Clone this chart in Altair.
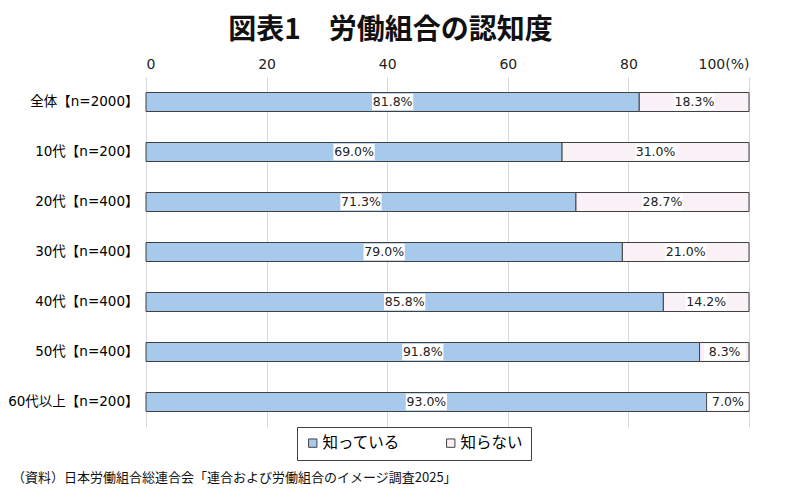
import altair as alt
import pandas as pd

categories = ["全体【n=2000】", "10代【n=200】", "20代【n=400】", "30代【n=400】",
              "40代【n=400】", "50代【n=400】", "60代以上【n=200】"]
known = [81.8, 69.0, 71.3, 79.0, 85.8, 91.8, 93.0]
unknown = [18.3, 31.0, 28.7, 21.0, 14.2, 8.3, 7.0]
series = ["知っている", "知らない"]
colors = ["#a7c9eb", "#f9f1f5"]
title_text = "図表1　労働組合の認知度"
source_text = "（資料）日本労働組合総連合会「連合および労働組合のイメージ調査2025」"

FONT = "DejaVu Sans, Noto Sans CJK JP"
CJK = "Noto Sans CJK JP"

rows = []
for c, k, u in zip(categories, known, unknown):
    rows.append({"cat": c, "series": series[0], "start": 0.0, "end": k,
                 "mid": k / 2, "label": f"{k:.1f}%"})
    rows.append({"cat": c, "series": series[1], "start": k, "end": min(k + u, 100.0),
                 "mid": k + u / 2, "label": f"{u:.1f}%"})
df = pd.DataFrame(rows)

xscale = alt.Scale(domain=[0, 100], nice=False)
yenc = alt.Y("cat:N", sort=categories,
             scale=alt.Scale(paddingInner=0.62, paddingOuter=0.31),
             axis=alt.Axis(title=None, domain=False, ticks=False, labelPadding=8,
                           labelFontSize=13.5, labelColor="#000000", labelFont=FONT))

bars = alt.Chart(df).mark_bar(stroke="#404040", strokeWidth=1).encode(
    x=alt.X("start:Q", scale=xscale,
            axis=alt.Axis(orient="top", title=None, values=[0, 20, 40, 60, 80, 100],
                          labelExpr="datum.value == 100 ? '100(%)' : datum.label",
                          domain=False, ticks=False, labelPadding=6, labelFontSize=14,
                          labelColor="#222222", labelFont=FONT,
                          grid=True, gridColor="#d9d9d9", gridWidth=1)),
    x2="end:Q",
    y=yenc,
    color=alt.Color("series:N", sort=series,
                    scale=alt.Scale(domain=series, range=colors),
                    legend=alt.Legend(title=None, orient="none", legendX=151, legendY=350,
                                      direction="horizontal", strokeColor="#404040",
                                      padding=8, labelFontSize=15.5, labelFont=CJK,
                                      labelColor="#000000",
                                      symbolType="square", symbolSize=70,
                                      symbolStrokeColor="#404040", symbolStrokeWidth=1,
                                      columnPadding=42, labelOffset=2,
                                      offset=0)),
)

boxes = alt.Chart(df).mark_point(
    shape="M-1,-0.4H1V0.4H-1Z", filled=True, fill="white", opacity=1,
    size=1700, strokeWidth=0).encode(
    x=alt.X("mid:Q", scale=xscale), y=alt.Y("cat:N", sort=categories))

labels = alt.Chart(df).mark_text(fontSize=12.5, font=FONT, color="#222222").encode(
    x=alt.X("mid:Q", scale=xscale), y=alt.Y("cat:N", sort=categories),
    text="label:N")

source = alt.Chart(pd.DataFrame({"t": [source_text]})).mark_text(
    fontSize=13, font=CJK, color="#111111", align="left",
    baseline="middle").encode(x=alt.value(-134), y=alt.value(401), text="t:N")

chart = alt.layer(bars, boxes, labels, source).properties(
    width=603, height=350,
    title=alt.TitleParams(title_text, anchor="middle", dx=-57, offset=12,
                          fontSize=28, fontWeight="bold", font=CJK, color="#111111"),
    autosize=alt.AutoSizeParams(type="none"),
    padding={"left": 138, "top": 69, "right": 43, "bottom": 67},
).configure_view(stroke=None)

chart.save("out.html", embed_options={"renderer": "svg", "actions": False})
